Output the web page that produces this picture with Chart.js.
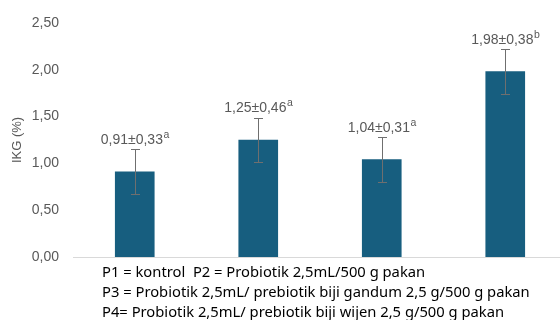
<!DOCTYPE html>
<html>
<head>
<meta charset="utf-8">
<script src="https://cdn.jsdelivr.net/npm/chart.js@4"></script>
<style>
  html, body { margin: 0; padding: 0; overflow: hidden; background: #ffffff; }
  canvas { display: block; }
</style>
</head>
<body>
<canvas id="ikgChart" width="567" height="320"></canvas>
<script>
// Treatment groups and their IKG (%) results
const categories = ['P1', 'P2', 'P3', 'P4'];
const meanIKG = [0.91, 1.25, 1.04, 1.98];
const sdIKG = [0.33, 0.46, 0.31, 0.38];
const errorBarIKG = [0.24, 0.24, 0.24, 0.24];
const groupLetters = ['a', 'a', 'a', 'b'];
const yTicks = [0, 0.5, 1, 1.5, 2, 2.5];
const noteLines = [
  'P1 = kontrol  P2 = Probiotik 2,5mL/500 g pakan',
  'P3 = Probiotik 2,5mL/ prebiotik biji gandum 2,5 g/500 g pakan',
  'P4= Probiotik 2,5mL/ prebiotik biji wijen 2,5 g/500 g pakan'
];

const comma = v => v.toFixed(2).replace('.', ',');
const LABEL_FONT = 'Liberation Sans, Arial, sans-serif';

// Whiskers drawn on top of each bar
const errorBarPlugin = {
  id: 'errorBars',
  afterDatasetsDraw(chart) {
    const { ctx, scales: { y } } = chart;
    const meta = chart.getDatasetMeta(0);
    ctx.save();
    ctx.strokeStyle = '#6f6f6f';
    ctx.lineWidth = 1;
    meta.data.forEach((bar, i) => {
      const x = Math.round(bar.x) + 0.5;
      const top = Math.round(y.getPixelForValue(meanIKG[i] + errorBarIKG[i])) + 0.5;
      const bot = Math.round(y.getPixelForValue(meanIKG[i] - errorBarIKG[i])) + 0.5;
      ctx.beginPath();
      ctx.moveTo(x, top); ctx.lineTo(x, bot);
      ctx.moveTo(x - 4.5, top); ctx.lineTo(x + 4.5, top);
      ctx.moveTo(x - 4.5, bot); ctx.lineTo(x + 4.5, bot);
      ctx.stroke();
    });
    ctx.restore();
  }
};

// "mean±sd" labels with a superscript group letter
const valueLabelPlugin = {
  id: 'valueLabels',
  afterDatasetsDraw(chart) {
    const { ctx } = chart;
    const meta = chart.getDatasetMeta(0);
    ctx.save();
    ctx.fillStyle = '#595959';
    ctx.textBaseline = 'middle';
    ctx.textAlign = 'left';
    meta.data.forEach((bar, i) => {
      const main = comma(meanIKG[i]) + '±' + comma(sdIKG[i]);
      const sup = groupLetters[i];
      ctx.font = '14px ' + LABEL_FONT;
      const wMain = ctx.measureText(main).width;
      ctx.font = '10.5px ' + LABEL_FONT;
      const wSup = ctx.measureText(sup).width;
      const x0 = bar.x - (wMain + wSup) / 2;
      const yMid = bar.y - 32;
      ctx.font = '14px ' + LABEL_FONT;
      ctx.fillText(main, x0, yMid);
      ctx.font = '10.5px ' + LABEL_FONT;
      ctx.fillText(sup, x0 + wMain + 0.5, yMid - 5);
    });
    ctx.restore();
  }
};

// Treatment key under the plot
const notesPlugin = {
  id: 'notes',
  afterDraw(chart) {
    const { ctx } = chart;
    ctx.save();
    ctx.fillStyle = '#000000';
    ctx.font = '14.75px "Noto Sans", sans-serif';
    ctx.textAlign = 'left';
    ctx.textBaseline = 'middle';
    noteLines.forEach((line, i) => {
      ctx.fillText(line, 102, 273 + i * 19.8);
    });
    ctx.restore();
  }
};

new Chart(document.getElementById('ikgChart'), {
  type: 'bar',
  data: {
    labels: categories,
    datasets: [{
      data: meanIKG,
      backgroundColor: '#175e7f',
      borderWidth: 0,
      barThickness: 39
    }]
  },
  options: {
    responsive: false,
    animation: false,
    layout: { padding: { top: 23, right: 0, bottom: 0, left: 0 } },
    plugins: {
      legend: { display: false },
      tooltip: { enabled: false }
    },
    scales: {
      x: {
        grid: { display: false, drawTicks: false },
        ticks: { display: false },
        border: { display: true, color: '#d9d9d9', width: 1 },
        afterFit(scale) { scale.height = 63; }
      },
      y: {
        min: 0,
        max: 2.5,
        afterBuildTicks(scale) { scale.ticks = yTicks.map(v => ({ value: v })); },
        ticks: {
          callback: v => comma(v),
          color: '#595959',
          font: { family: LABEL_FONT, size: 14 },
          padding: 14
        },
        grid: { display: false, drawTicks: false },
        border: { display: false },
        title: {
          display: true,
          text: 'IKG (%)',
          color: '#595959',
          font: { family: LABEL_FONT, size: 13 },
          padding: { top: 10, bottom: 0 }
        },
        afterFit(scale) { scale.width = 73; }
      }
    }
  },
  plugins: [errorBarPlugin, valueLabelPlugin, notesPlugin]
});
</script>
</body>
</html>
